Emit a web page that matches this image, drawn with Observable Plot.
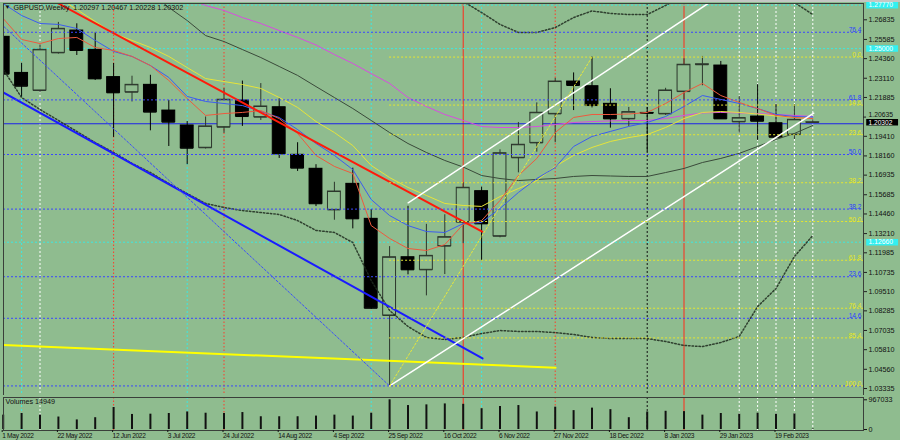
<!DOCTYPE html>
<html><head><meta charset="utf-8">
<script src="https://cdn.jsdelivr.net/npm/d3@7"></script>
<script src="https://cdn.jsdelivr.net/npm/@observablehq/plot@0.6"></script>
<style>
html,body{margin:0;padding:0;background:#8fbc8f;width:900px;height:440px;overflow:hidden;}
#wrap{position:relative;width:900px;height:440px;}
#wrap svg{display:block;}
#topbar{position:absolute;left:0;top:0;width:900px;height:2px;background:#c4c8c4;}
.vol [aria-label="x-axis tick label"] text{letter-spacing:-0.3px;}
</style></head><body><div id="wrap"></div><div id="topbar"></div><script>
// ---------- data ----------
const weeks = ["2022-05-01","2022-05-08","2022-05-15","2022-05-22","2022-05-29","2022-06-05","2022-06-12","2022-06-19","2022-06-26","2022-07-03","2022-07-10","2022-07-17","2022-07-24","2022-07-31","2022-08-07","2022-08-14","2022-08-21","2022-08-28","2022-09-04","2022-09-11","2022-09-18","2022-09-25","2022-10-02","2022-10-09","2022-10-16","2022-10-23","2022-10-30","2022-11-06","2022-11-13","2022-11-20","2022-11-27","2022-12-04","2022-12-11","2022-12-18","2022-12-25","2023-01-01","2023-01-08","2023-01-15","2023-01-22","2023-01-29","2023-02-05","2023-02-12","2023-02-19","2023-02-26","2023-03-05"];
const open  = [1.2575,1.2345,1.2233,1.2473,1.2615,1.2492,1.2318,1.2222,1.2269,1.2105,1.2010,1.1868,1.1999,1.2169,1.2063,1.2126,1.1823,1.1734,1.1472,1.1638,1.1415,1.0799,1.1170,1.1090,1.1241,1.1394,1.1591,1.1304,1.1804,1.1899,1.2084,1.2290,1.2260,1.2148,1.2052,1.2090,1.2084,1.2226,1.2397,1.2392,1.2033,1.2067,1.2024,1.1952,1.20297];
const high  = [1.2638,1.2406,1.2525,1.2667,1.2658,1.2600,1.2405,1.2324,1.2330,1.2169,1.2035,1.2064,1.2245,1.2293,1.2277,1.2180,1.1900,1.1760,1.1648,1.1738,1.1474,1.1238,1.1495,1.1380,1.1441,1.1645,1.1617,1.1855,1.2029,1.2154,1.2310,1.2345,1.2446,1.2244,1.2125,1.2125,1.2247,1.2435,1.2450,1.2418,1.2195,1.2270,1.2145,1.2143,1.20467];
const low   = [1.2276,1.2190,1.2218,1.2465,1.2456,1.2297,1.1934,1.2160,1.1976,1.1876,1.1760,1.1860,1.1960,1.2004,1.2042,1.1800,1.1717,1.1493,1.1406,1.1351,1.0838,1.0350,1.1058,1.0924,1.1060,1.1257,1.1147,1.1294,1.1708,1.1840,1.1900,1.2105,1.2122,1.1993,1.2003,1.1841,1.2074,1.2170,1.2263,1.2048,1.1961,1.1915,1.1925,1.1921,1.20228];
const close = [1.2337,1.2260,1.2492,1.2626,1.2488,1.2307,1.2218,1.2269,1.2095,1.2031,1.1865,1.2004,1.2174,1.2067,1.2131,1.1829,1.1738,1.1511,1.1589,1.1415,1.0845,1.1170,1.1090,1.1179,1.1298,1.1613,1.1383,1.1833,1.1887,1.2091,1.2290,1.2265,1.2137,1.2052,1.2095,1.2088,1.2233,1.2397,1.2400,1.2052,1.2057,1.2037,1.1935,1.2046,1.20302];
const volume = [468000,521000,468000,406000,312000,384000,717000,490000,499000,521000,571000,530000,521000,552000,415000,415000,415000,437000,468000,437000,530000,967033,780000,802000,833000,820000,677000,749000,780000,571000,727000,615000,696000,646000,384000,571000,593000,583000,468000,521000,499000,530000,499000,508000,14949];

const maRed     = [1.2692,1.2558,1.2532,1.2564,1.2571,1.2507,1.2488,1.2450,1.2392,1.2297,1.2182,1.2074,1.2086,1.2093,1.2105,1.2054,1.1959,1.1819,1.1749,1.1704,1.1372,1.1290,1.1226,1.1213,1.1251,1.1379,1.1404,1.1532,1.1691,1.1800,1.1965,1.2061,1.2080,1.2080,1.2083,1.2093,1.2150,1.2220,1.2278,1.2201,1.2157,1.2118,1.2074,1.2061,1.2054];
const maBlue    = [1.2787,1.2711,1.2660,1.2654,1.2628,1.2552,1.2482,1.2450,1.2392,1.2316,1.2195,1.2163,1.2150,1.2137,1.2099,1.2061,1.1984,1.1895,1.1819,1.1729,1.1538,1.1436,1.1372,1.1334,1.1328,1.1385,1.1392,1.1481,1.1583,1.1672,1.1742,1.1876,1.1940,1.1972,1.2004,1.2029,1.2067,1.2131,1.2201,1.2176,1.2150,1.2118,1.2080,1.2067,1.2064];
const maYellow  = [null,null,null,1.2826,1.2749,1.2673,1.2596,1.2552,1.2507,1.2450,1.2379,1.2309,1.2290,1.2271,1.2246,1.2188,1.2125,1.2035,1.1965,1.1882,1.1755,1.1678,1.1615,1.1564,1.1513,1.1500,1.1494,1.1557,1.1608,1.1659,1.1749,1.1819,1.1870,1.1908,1.1933,1.1952,1.1997,1.2054,1.2093,1.2099,1.2093,1.2083,1.2070,1.2061,1.2054];
const maGray    = [null,null,null,null,null,null,null,null,1.2858,1.2762,1.2679,1.2583,1.2545,1.2494,1.2443,1.2386,1.2329,1.2258,1.2188,1.2118,1.2042,1.1965,1.1895,1.1838,1.1787,1.1745,1.1691,1.1672,1.1659,1.1666,1.1672,1.1685,1.1691,1.1688,1.1685,1.1685,1.1710,1.1736,1.1774,1.1800,1.1832,1.1876,1.1921,1.1959,1.2010];
const maMagenta = [null,null,null,null,null,null,null,null,null,null,1.2819,1.2775,1.2743,1.2698,1.2660,1.2615,1.2571,1.2523,1.2462,1.2405,1.2341,1.2278,1.2188,1.2131,1.2080,1.2042,1.2003,1.1997,1.1997,1.2003,1.2016,1.2029,1.2035,1.2039,1.2042,1.2042,1.2054,1.2074,1.2090,1.2093,1.2090,1.2086,1.2080,1.2074,1.2067];
const bandUpper = [null,null,null,null,null,null,null,null,null,null,null,null,null,null,null,null,null,null,null,null,null,null,null,null,1.2870,1.2800,1.2730,1.2654,1.2603,1.2603,1.2634,1.2698,1.2740,1.2724,1.2717,1.2717,1.2775,1.2838,1.2902,1.2902,1.2902,1.2902,1.2845,1.2794,1.2717];
const bandLower = [1.2367,1.2188,1.2112,1.2042,1.1972,1.1901,1.1838,1.1768,1.1710,1.1640,1.1576,1.1513,1.1487,1.1468,1.1455,1.1443,1.1404,1.1341,1.1328,1.1264,1.1022,1.0831,1.0729,1.0659,1.0646,1.0659,1.0684,1.0703,1.0697,1.0697,1.0690,1.0678,1.0659,1.0652,1.0652,1.0652,1.0633,1.0608,1.0601,1.0627,1.0665,1.0856,1.0971,1.1175,1.1309];

const priceTicks = [1.26835,1.25585,1.24360,1.23110,1.21885,1.20635,1.19410,1.18160,1.16935,1.15685,1.14460,1.13210,1.11985,1.10735,1.09510,1.08285,1.07035,1.05810,1.04560,1.03335];
const dateTickWeek  = [0,3,6,9,12,15,18,21,24,27,30,33,36,39,42];
const dateTickLabel = ["1 May 2022","22 May 2022","12 Jun 2022","3 Jul 2022","24 Jul 2022","14 Aug 2022","4 Sep 2022","25 Sep 2022","16 Oct 2022","6 Nov 2022","27 Nov 2022","18 Dec 2022","8 Jan 2023","29 Jan 2023","19 Feb 2023"];

const blueFibLabel  = ["14.6","23.6","38.2","50.0","61.8","76.4"];
const blueFibPrice  = [1.0350,1.0781,1.1046,1.1477,1.1825,1.2173,1.2604];
const blueFibShown  = [1.0781,1.1046,1.1477,1.1825,1.2173,1.2604];
const yellowFibLabel = ["0.0","14.6","23.6","38.2","50.0","61.8","76.4","85.4","100.0"];
const yellowFibPrice = [1.2446,1.2140,1.1951,1.1645,1.1398,1.1151,1.0845,1.0656,1.0350];
const yellowFibStartWeek = 21;

const vCyan = [1,10,20,26], vRedDot = [6,12,30], vRedSolid = [25,37], vWhiteDot = [2,40,41,42,43,44], vBlackDot = [35];
const hCyan = [1.2777,1.2500,1.1266];
const hCyanLabel = ["1.27770","1.25000","1.12660"];
const hBlueSolid = [1.2021];
const lastPrice = 1.20302;

const trendRed    = [[3.02,1.2786],[26.03,1.1333]];
const trendBlue   = [[0,1.2221],[26.05,1.0525]];
const trendYellow = [[0,1.0611],[30.02,1.0466]];
const chanUpper   = [[22.01,1.1517],[38.3,1.2787]];
const chanLower   = [[21,1.0350],[44.05,1.2088]];
const fibDiagYellow = [[21,1.0350],[32,1.2446]];
const fibDiagBlue   = [[-6,1.3300],[21,1.0350]];

const header = "GBPUSD,Weekly  1.20297 1.20467 1.20228 1.20302";

// ---------- build ----------
const nz = v => v == null ? NaN : v;
const rows = weeks.map((w,k)=>({i:k, week:w, open:open[k], high:high[k], low:low[k], close:close[k], volume:volume[k],
  red:nz(maRed[k]), blue:nz(maBlue[k]), yellow:nz(maYellow[k]), gray:nz(maGray[k]), mag:nz(maMagenta[k]), up:nz(bandUpper[k]), lo:nz(bandLower[k])}));
const bull = rows.filter(d=>d.close>=d.open), bear = rows.filter(d=>d.close<d.open);
const BG = "#8fbc8f";
const xDomain = [0.0163, 46.755];
const font = "Liberation Sans, Arial, sans-serif";
const hw = 0.35;
// the tick label next to the last-price box is nudged up so the two do not collide
const nearLast = priceTicks.filter(p => Math.abs(p - lastPrice) < 0.004);
const farTicks = priceTicks.filter(p => Math.abs(p - lastPrice) >= 0.004);

function vlineMarks(){
  return [
    Plot.ruleX(vCyan,{stroke:"#3ee8e0",strokeDasharray:"2,2"}),
    Plot.ruleX(vRedDot,{stroke:"#ff3a2a",strokeDasharray:"1.5,2"}),
    Plot.ruleX(vWhiteDot,{stroke:"#ffffff",strokeDasharray:"2,2"}),
    Plot.ruleX(vBlackDot,{stroke:"#111",strokeDasharray:"2,2"}),
    Plot.ruleX(vRedSolid,{stroke:"#ff2a1a",strokeWidth:1})
  ];
}
const seg = (pts, o) => Plot.line(pts, {x:d=>d[0], y:d=>d[1], clip:true, ...o});

const main = Plot.plot({
  width:900, height:395, marginTop:3, marginBottom:0, marginLeft:3, marginRight:37,
  x:{type:"linear", domain:xDomain, axis:null},
  y:{type:"linear", domain:[1.02890,1.27874], axis:null},
  style:{background:"transparent", fontFamily:font, fontSize:"7.2px", color:"#111"},
  marks:[
    ...vlineMarks(),
    Plot.ruleY(hCyan,{stroke:"#3ee8e0",strokeDasharray:"2,2"}),
    Plot.ruleY(hBlueSolid,{stroke:"#1c22e8",strokeWidth:1.2}),
    // candles
    Plot.ruleX(bear,{x:"i",y1:"low",y2:"high",stroke:"#000",clip:true}),
    Plot.ruleX(bull,{x:"i",y1:"low",y2:"high",stroke:"#2c362c",clip:true}),
    Plot.rect(bear,{x1:d=>d.i-hw,x2:d=>d.i+hw,y1:"open",y2:"close",fill:"#000",stroke:"#000",clip:true}),
    Plot.rect(bull,{x1:d=>d.i-hw,x2:d=>d.i+hw,y1:"open",y2:"close",fill:BG,stroke:"#2c362c",clip:true}),
    Plot.ruleY(rows,{y:"open",x1:d=>d.i-hw,x2:d=>d.i+hw,stroke:d=>d.close>=d.open?"#2c362c":"#000",clip:true}),
    Plot.ruleY(rows,{y:"close",x1:d=>d.i-hw,x2:d=>d.i+hw,stroke:d=>d.close>=d.open?"#2c362c":"#000",clip:true}),
    // indicators
    Plot.line(rows,{x:"i",y:"up",stroke:"#1e2a1e",strokeDasharray:"1.5,2",strokeOpacity:0.85,clip:true}),
    Plot.line(rows,{x:"i",y:"lo",stroke:"#1e2a1e",strokeDasharray:"1.5,2",strokeOpacity:0.85,clip:true}),
    Plot.line(rows,{x:"i",y:"gray",stroke:"#3a4a3a",strokeWidth:1,clip:true}),
    Plot.line(rows,{x:"i",y:"mag",stroke:"#d84ce0",strokeWidth:1,clip:true}),
    Plot.line(rows,{x:"i",y:"yellow",stroke:"#e6e43a",strokeWidth:1,clip:true}),
    Plot.line(rows,{x:"i",y:"blue",stroke:"#3c5cf0",strokeWidth:1,clip:true}),
    Plot.line(rows,{x:"i",y:"red",stroke:"#ee5a3e",strokeWidth:1,clip:true}),
    // objects
    seg(trendYellow,{stroke:"#ffff00",strokeWidth:2}),
    seg(trendBlue,{stroke:"#1a1aff",strokeWidth:2}),
    seg(trendRed,{stroke:"#ff1a0a",strokeWidth:2}),
    seg(chanUpper,{stroke:"#ffffff",strokeWidth:1.5}),
    seg(chanLower,{stroke:"#ffffff",strokeWidth:1.5}),
    seg(fibDiagBlue,{stroke:"#3a4cff",strokeWidth:1,strokeDasharray:"2,2"}),
    seg(fibDiagYellow,{stroke:"#e8e83a",strokeWidth:1,strokeDasharray:"2,2"}),
    Plot.ruleY(blueFibPrice,{stroke:"#3a46ff",strokeDasharray:"2,2"}),
    Plot.ruleY(yellowFibPrice,{x1:yellowFibStartWeek,x2:xDomain[1],stroke:"#e6e630",strokeDasharray:"2,2"}),
    Plot.text(blueFibShown,{y:d=>d,text:(d,k)=>blueFibLabel[k],frameAnchor:"right",dx:-2,dy:-2.5,textAnchor:"end",fill:"#2a3cff",fontSize:6.6}),
    Plot.text(yellowFibPrice,{y:d=>d,text:(d,k)=>yellowFibLabel[k],frameAnchor:"right",dx:-2,dy:-2,textAnchor:"end",fill:"#e8e820",fontSize:6.6}),
    Plot.frame({stroke:"#3a3f3a"}),
    Plot.axisY({anchor:"right",label:null,ticks:farTicks,tickFormat:d=>d.toFixed(5),tickSize:3,tickPadding:2,stroke:"#222"}),
    Plot.ruleY(nearLast,{y:d=>d,x1:xDomain[1],x2:46.92,stroke:"#222"}),
    Plot.text(nearLast,{y:d=>d,text:d=>d.toFixed(5),frameAnchor:"right",dx:5,dy:-2,textAnchor:"start",fill:"#111",fontSize:6.8}),
    // axis boxes
    Plot.ruleY(hCyan,{x1:46.93,x2:48.66,stroke:"#33f0f0",strokeWidth:6.5}),
    Plot.text(hCyan,{y:d=>d,text:(d,k)=>hCyanLabel[k],frameAnchor:"right",dx:5,textAnchor:"start",fill:"#ffffff",fontSize:6.8}),
    Plot.ruleY([lastPrice],{x1:46.93,x2:48.66,stroke:"#000",strokeWidth:6.5}),
    Plot.text([lastPrice],{y:d=>d,text:d=>d.toFixed(5),frameAnchor:"right",dx:5,dy:1,textAnchor:"start",fill:"#ffffff",fontSize:6.6}),
    Plot.text(["\u25BC"],{frameAnchor:"top-left",dx:1,dy:3.8,lineAnchor:"middle",textAnchor:"start",fontSize:6,fill:"#111"}),
    Plot.text([header],{frameAnchor:"top-left",dx:10,dy:3.8,lineAnchor:"middle",textAnchor:"start",fill:"#111"})
  ]
});

const vol = Plot.plot({
  width:900, height:45, marginTop:2, marginBottom:10, marginLeft:3, marginRight:37,
  className:"vol",
  x:{type:"linear", domain:xDomain, axis:null},
  y:{type:"linear", domain:[-32560,1041919], axis:null},
  style:{background:"transparent", fontFamily:font, fontSize:"7.2px", color:"#111"},
  marks:[
    ...vlineMarks(),
    Plot.ruleX(rows,{x:"i",y1:0,y2:"volume",stroke:"#111",strokeWidth:2}),
    Plot.frame({stroke:"#3a3f3a"}),
    Plot.axisY({anchor:"right",label:null,ticks:[0,967033],tickFormat:d=>String(d),tickSize:3,tickPadding:2}),
    Plot.axisX({anchor:"bottom",label:null,ticks:dateTickWeek,tickFormat:d=>dateTickLabel[dateTickWeek.indexOf(d)],textAnchor:"start",tickSize:2,tickPadding:1,fontSize:6.6,dx:-1}),
    Plot.text(["Volumes " + volume[volume.length-1]],{frameAnchor:"top-left",dx:2,dy:4.5,lineAnchor:"middle",textAnchor:"start",fill:"#111"})
  ]
});

const wrap = document.getElementById("wrap");
wrap.appendChild(main);
wrap.appendChild(vol);
</script></body></html>
